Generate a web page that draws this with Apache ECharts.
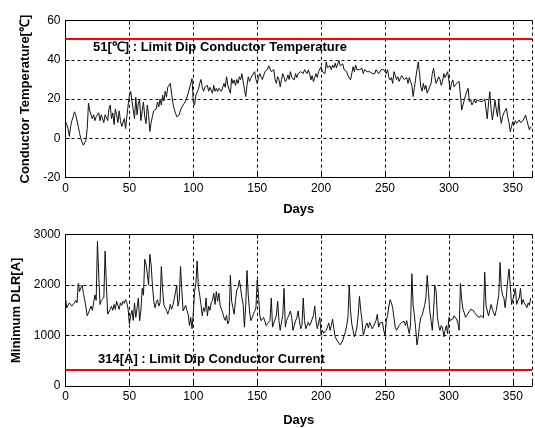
<!DOCTYPE html>
<html><head><meta charset="utf-8">
<script src="https://cdn.jsdelivr.net/npm/echarts@6/dist/echarts.min.js"></script>
<style>html,body{margin:0;padding:0;background:#fff}#c{width:535px;height:428px}</style>
</head><body><div id="c"></div>
<script>
// Conductor temperature [°C], days 0..364
const temperature = [
8.5,7,5,1,6,9,11,13.5,12,11,
6,2.5,0,-2,-3.5,-4,-1,5,18,14,
13,10,12,9,11,10,13,9,12,10,
8,12,11,9,15,17,10,13,7,15,
12,8,14,9,6,7,10,5,11,17,
22,24,19,14.5,10,21,12,18,19.5,9,
14,18.5,11,7.5,17,12,3.5,8,11,14,
13,15,18.5,16,20,17,22,19,24,21,
26,25,28,23,18,15,13,11,10.5,12,
14.5,15,17,18,19,21,23,24,28,30.5,
18.5,17,22,23,25,28,30,26,24,26,
25,27,24,26,25,23,27,24,25.5,23.8,
25.5,26,24,24.7,28,26,31.4,27,25,23,
30.6,28,29.7,27,30,28,31.4,30,33,29,
25,21.3,27,31.4,29,30.6,32,31,34,30,
28,31,33,31.4,30,32,34,34.9,35,37,
36,34,33,35,30,28,31.4,30,26.3,30,
33,31,28.9,30,32.3,30,34,31,32,29.8,
33,31,33,32,34,33,33,35,34,33,
34.9,33,29.8,32,28.9,31,33,31,34,35,
36.5,34,35,33,39,36,35.7,37,35,37.4,
36,38.3,36,38,39.6,37,36.5,38,35,36,
34,32,33,29.8,33,36.5,34,37.4,35,36,
35,34,35.7,33,35,35,34,33,34,34,
33,34,33,35,34,33,34,35,34,35,
35.7,33,35,31,29.8,31,28,34,32,30,
31.4,29,30.6,32,32.3,30,29.8,31,28,31,
31.4,27,21.3,26,30.6,35,39,33,26.3,24,
28,25,27,23,24,26.3,28,33,35.7,31,
28,29,31.4,30,27,29,33,31,32,34,
33,24.6,28,29.8,26.3,25.5,28,27,29,22,
14.4,17,19.5,22,24,25.5,18.7,20,17,18,
19.5,18,19.5,20,19,19.5,18.7,19.5,20,19.5,
10,18,23.8,15,9.3,14,19.5,15,11,19.5,
12,7.6,11,13,12,15.3,11,8,3.4,6,
8.5,7,9,7.6,8,9.3,8,8.5,9,10,
11.9,9,10,4.3,6
];
// Minimum DLR [A], days 0..364
const dlr = [
1744,1551,1600,1648,1620,1584,1610,1648,1700,1648,
2033,1872,1950,2000,1840,1712,1560,1392,1450,1520,
1584,1500,1648,1808,1700,2866,2193,1616,1700,1680,
1750,2674,2000,1424,1450,1520,1580,1500,1616,1520,
1680,1600,1520,1650,1600,1680,1640,1712,1650,1520,
1231,1392,1500,1300,1648,1360,1550,1744,1295,1500,
1936,1800,2513,2417,2225,2000,2610,2400,2000,1700,
1552,1650,1712,1584,1650,2370,1904,1600,1552,1500,
1424,1500,1616,1520,1600,1712,1850,2000,1584,1700,
2370,1900,1488,1520,1600,1500,1424,1199,1360,1135,
1450,1872,2033,2481,1968,1800,1616,1392,1552,1480,
1744,1392,1584,1500,1650,1700,1840,1616,1872,1680,
1840,1600,1520,1450,1360,1300,1400,1231,1300,2193,
1680,1550,1424,1700,1904,1950,2096,1936,1750,1616,
1167,1600,2289,1800,1488,1295,1350,1424,1480,1552,
2100,1808,1400,1295,1330,1360,1280,1199,1240,1263,
1300,1744,1167,1250,1327,1400,1680,1300,1103,1263,
1400,1936,1167,1300,1360,1420,1488,1350,1103,1200,
1295,1350,1488,1300,1135,1200,1744,1300,1135,1200,
1263,1199,1250,1327,1400,1584,1300,1135,1250,1360,
1006,1103,1050,1038,1100,1135,1250,1103,1200,1327,
1135,975,1000,879,850,815,830,911,1000,1071,
1200,1360,2000,1500,1231,1100,975,1050,1167,1400,
1776,1500,1295,1006,1100,1199,1250,1150,1263,1199,
1135,1180,1199,1300,1424,1167,1250,1280,1263,1103,
1006,1295,1400,1584,1712,1650,1552,1350,1167,1103,
1150,1199,1230,1263,1231,1280,1199,1295,1150,1038,
1231,2225,1600,1392,1135,815,975,1200,1360,1400,
1424,1600,1744,2193,1872,1488,1300,1103,1500,2000,
1872,1360,1200,1103,1199,1150,975,1100,1199,1038,
1360,1300,1263,1330,1392,1360,1327,1250,1103,2033,
1700,1520,1450,1360,1400,1424,1480,1520,1552,1500,
1456,1420,1392,1380,1360,1400,1424,1350,2257,1600,
1488,1392,1500,1616,1520,1450,1392,1500,1648,1800,
2450,1936,1800,1744,1552,1800,2096,2321,2000,1616,
1712,1800,1936,1616,1700,1744,1936,1616,1712,1650,
1680,1552,1648,1600,1744
];
const limitTemp = 51;
const limitCurrent = 314;
const xTicks = [0,50,100,150,200,250,300,350];
const tempTicks = [-20,0,20,40,60];
const dlrTicks = [0,1000,2000,3000];

const toPairs = a => a.map((v,i)=>[i,v]);
const labelFont = {color:'#000', fontSize:12, fontFamily:'Liberation Sans, Arial, sans-serif'};
const nameFont = {color:'#000', fontSize:13, fontWeight:'bold', fontFamily:'Liberation Sans, Arial, sans-serif'};
const dashed = {show:true, lineStyle:{color:'#000', type:[3,3], width:1}};
const axLine = {show:true, onZero:false, lineStyle:{color:'#000', width:1}};
const tick = {show:true, inside:true, length:4, lineStyle:{color:'#000'}};

function bottomX(gi, gap){
  return {type:'value', gridIndex:gi, min:0, max:365, interval:50, position:'bottom',
    name:'Days', nameLocation:'middle', nameGap:gap, nameTextStyle:nameFont,
    axisLine:axLine, axisTick:tick, splitLine:dashed,
    axisLabel:Object.assign({margin:5,
      formatter:v=>xTicks.includes(v)?String(v):''}, labelFont)};
}
function topX(gi){
  return {type:'value', gridIndex:gi, min:0, max:365, interval:50, position:'top',
    axisLine:axLine, axisTick:tick, splitLine:{show:false}, axisLabel:{show:false}};
}
const redLine = (v) => ({silent:true, symbol:'none', label:{show:false},
  lineStyle:{color:'#ff0000', width:2, type:'solid'}, data:[{yAxis:v}]});

const chart = echarts.init(document.getElementById('c'), null, {renderer:'canvas'});
chart.setOption({
  animation:false,
  backgroundColor:'#fff',
  grid:[
    {left:65.5, top:20.7, width:470, height:156.8},
    {left:65.5, top:234.7, width:470, height:156}
  ],
  xAxis:[bottomX(0, 25), topX(0), bottomX(1, 28), topX(1)],
  yAxis:[
    {type:'value', gridIndex:0, min:tempTicks[0], max:tempTicks[tempTicks.length-1], interval:20,
     name:'Conductor Temperature[℃]', nameLocation:'middle', nameGap:28, nameTextStyle:nameFont,
     axisLine:axLine, axisTick:tick, splitLine:dashed,
     axisLabel:Object.assign({margin:5, formatter:v=>String(v)}, labelFont)},
    {type:'value', gridIndex:1, min:dlrTicks[0], max:dlrTicks[dlrTicks.length-1], interval:1000,
     name:'Minimum DLR[A]', nameLocation:'middle', nameGap:39, nameTextStyle:nameFont,
     axisLine:axLine, axisTick:tick, splitLine:dashed,
     axisLabel:Object.assign({margin:5, formatter:v=>String(v)}, labelFont)}
  ],
  series:[
    {type:'line', xAxisIndex:0, yAxisIndex:0, data:toPairs(temperature), showSymbol:false,
     lineStyle:{color:'#111', width:1}, markLine:redLine(limitTemp), z:3},
    {type:'line', xAxisIndex:2, yAxisIndex:1, data:toPairs(dlr), showSymbol:false,
     lineStyle:{color:'#111', width:1}, markLine:redLine(limitCurrent), z:3}
  ],
  graphic:[
    {type:'text', left:93, top:41, style:{text:limitTemp+'[℃] : Limit Dip Conductor Temperature', fill:'#000',
      font:'bold 13px "Liberation Sans", Arial, sans-serif'}},
    {type:'text', left:98, top:353, style:{text:limitCurrent+'[A] : Limit Dip Conductor Current', fill:'#000',
      font:'bold 13px "Liberation Sans", Arial, sans-serif'}}
  ]
});
</script></body></html>
